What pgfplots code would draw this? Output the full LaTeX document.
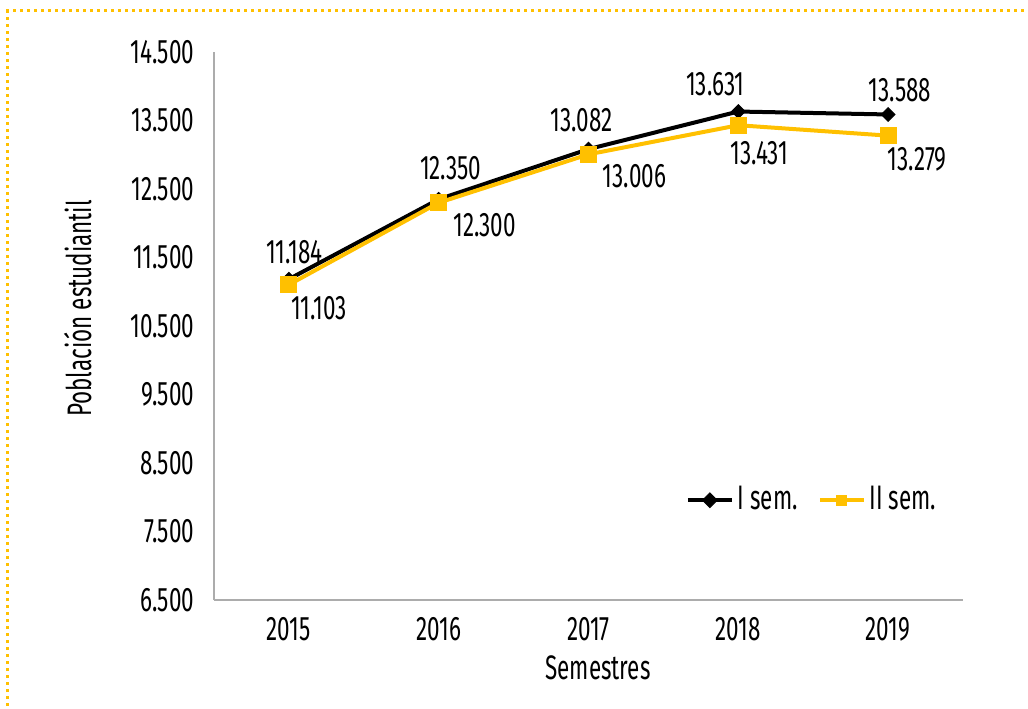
\documentclass[border=0pt]{standalone}
\usepackage{pgfplots}
\pgfplotsset{compat=1.18}
\usepackage{fontspec}
\setmainfont{Fira Sans}[FakeStretch=0.66]
\definecolor{gold}{HTML}{FFC000}
\pgfplotstableread{
x y dx dy
0 11184 2.75 13.5
1 12350 6 15.5
2 13082 -3.5 14.5
3 13631 -11.5 13.5
4 13588 6 12
}\semI
\pgfplotstableread{
x y dx dy
0 11103 15 -11.5
1 12300 23 -11
2 13006 23 -11
3 13431 10.5 -14
4 13279 14.5 -12
}\semII
\begin{document}
\fontsize{17}{20}\selectfont
\begin{tikzpicture}
\useasboundingbox (-107pt,-54pt) rectangle (407pt,300pt);
\draw[gold, line width=1.5pt, dash pattern=on 1.5pt off 2pt] (-103pt,-60pt) -- (-103pt,294.5pt) -- (410pt,294.5pt);
\begin{axis}[
  at={(0pt,0pt)}, anchor=south west,
  width=374.5pt, height=274pt, scale only axis,
  xmin=-0.5, xmax=4.5, ymin=6500, ymax=14500,
  xtick={0,1,2,3,4}, xticklabels={2015,2016,2017,2018,2019},
  ytick={6500,7500,8500,9500,10500,11500,12500,13500,14500},
  scaled y ticks=false,
  axis x line*=bottom, axis y line*=left,
  axis line style={-, gray!65, line width=0.8pt},
  major tick length=0pt,
  /pgf/number format/.cd, fixed, 1000 sep={.}, assume math mode=true,
  /pgfplots/.cd,
  yticklabel style={xshift=-4pt},
  xticklabel style={yshift=-3pt},
  ylabel={Población estudiantil},
  ylabel style={at={(axis description cs:-0.182,0.532)}, anchor=center},
  xlabel={Semestres},
  xlabel style={at={(axis description cs:0.5127,-0.124)}, anchor=center},
  legend columns=2,
  legend style={draw=none, fill=none, at={(axis description cs:0.63,0.182)}, anchor=west,
    /tikz/every even column/.append style={column sep=8pt}, inner sep=0pt, outer sep=0pt},
  legend cell align=left,
  legend image code/.code={\draw[mark repeat=2,mark phase=2, mark size=2.6pt] plot coordinates {(0pt,0pt)(11pt,0pt)(22pt,0pt)};},
  nodes near coords={\pgfmathprintnumber[fixed,1000 sep={.},assume math mode=true]{\pgfplotspointmeta}},
  visualization depends on={\thisrow{dx} \as \dx},
  visualization depends on={\thisrow{dy} \as \dy},
  every node near coord/.append style={anchor=center, xshift=\dx pt, yshift=\dy pt, text=black, font=\fontsize{17}{20}\selectfont},
]
\addplot[black, line width=2pt, mark=square*, mark size=2.4pt, mark options={solid, rotate=45, line width=0.5pt}] table[x=x, y=y, meta=y] {\semI};
\addlegendentry{I sem.}
\addplot[gold, line width=2pt, mark=square*, mark size=4pt, mark options={solid, line width=0.5pt}] table[x=x, y=y, meta=y] {\semII};
\addlegendentry{II sem.}
\end{axis}
\end{tikzpicture}
\end{document}
